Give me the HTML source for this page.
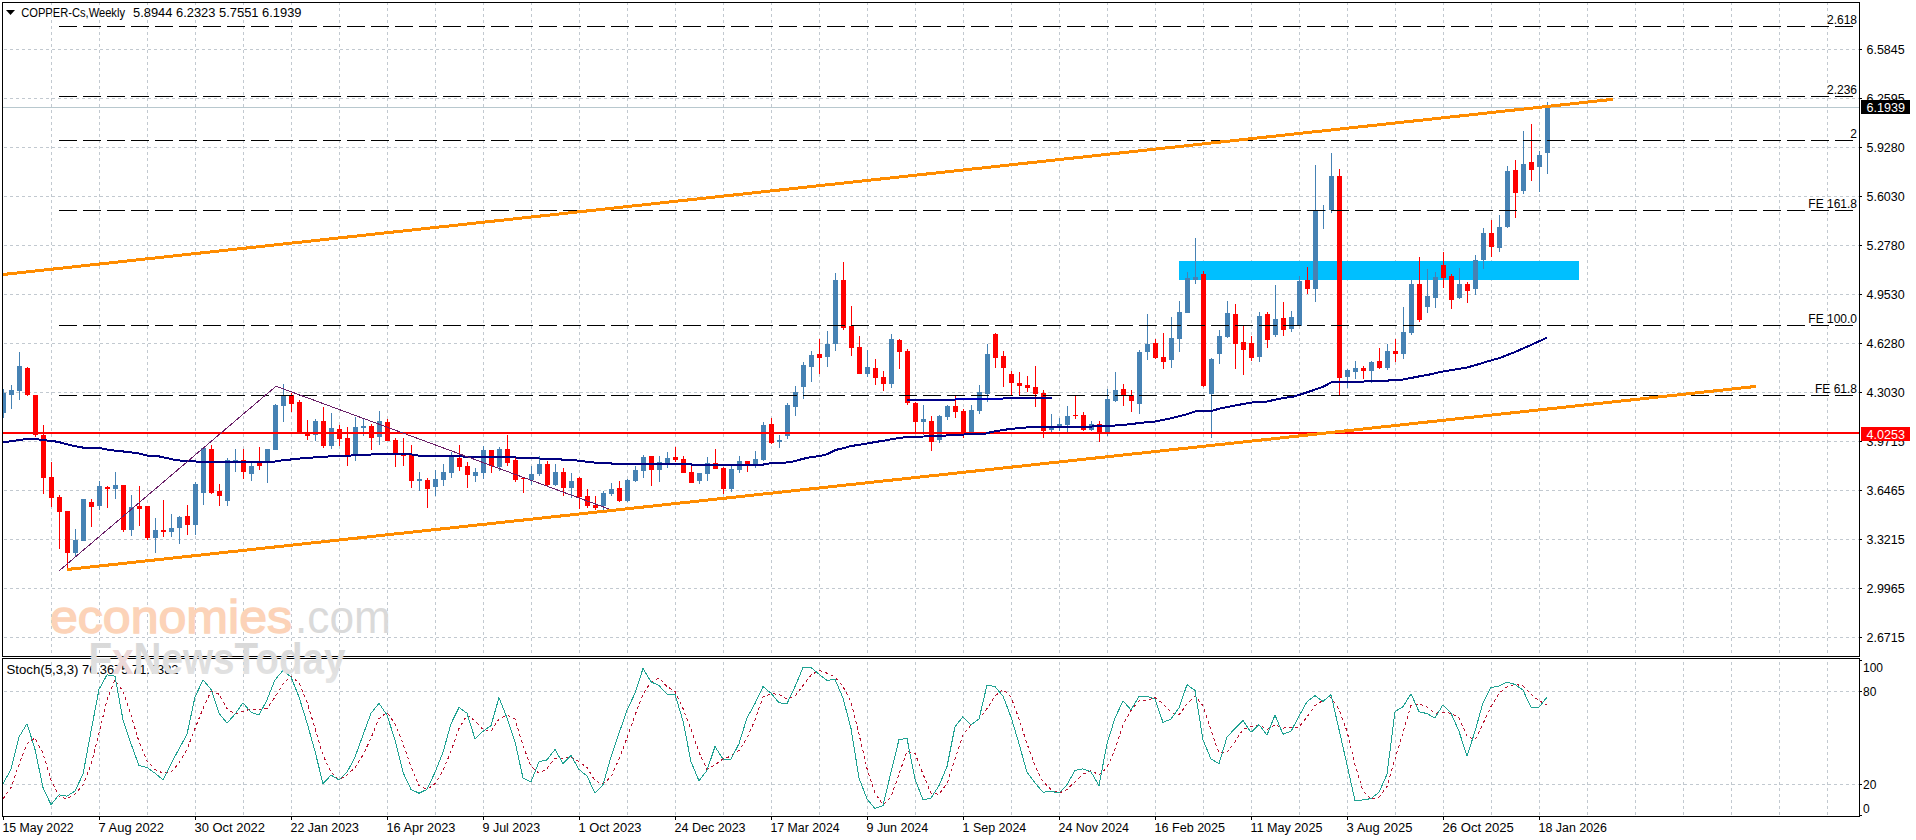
<!DOCTYPE html><html><head><meta charset="utf-8"><style>html,body{margin:0;padding:0;background:#fff;width:1916px;height:840px;overflow:hidden}svg{display:block}text{font-family:"Liberation Sans",sans-serif;font-size:12px;fill:#000;white-space:pre}</style></head><body>
<svg width="1916" height="840" viewBox="0 0 1916 840">
<rect x="0" y="0" width="1916" height="840" fill="#fff"/>
<g stroke="#c2c9d0" stroke-width="1" stroke-dasharray="3 3" shape-rendering="crispEdges" fill="none">
<line x1="51.5" y1="2" x2="51.5" y2="656"/>
<line x1="51.5" y1="662" x2="51.5" y2="816"/>
<line x1="99.5" y1="2" x2="99.5" y2="656"/>
<line x1="99.5" y1="662" x2="99.5" y2="816"/>
<line x1="147.5" y1="2" x2="147.5" y2="656"/>
<line x1="147.5" y1="662" x2="147.5" y2="816"/>
<line x1="195.5" y1="2" x2="195.5" y2="656"/>
<line x1="195.5" y1="662" x2="195.5" y2="816"/>
<line x1="243.5" y1="2" x2="243.5" y2="656"/>
<line x1="243.5" y1="662" x2="243.5" y2="816"/>
<line x1="291.5" y1="2" x2="291.5" y2="656"/>
<line x1="291.5" y1="662" x2="291.5" y2="816"/>
<line x1="339.5" y1="2" x2="339.5" y2="656"/>
<line x1="339.5" y1="662" x2="339.5" y2="816"/>
<line x1="387.5" y1="2" x2="387.5" y2="656"/>
<line x1="387.5" y1="662" x2="387.5" y2="816"/>
<line x1="435.5" y1="2" x2="435.5" y2="656"/>
<line x1="435.5" y1="662" x2="435.5" y2="816"/>
<line x1="483.5" y1="2" x2="483.5" y2="656"/>
<line x1="483.5" y1="662" x2="483.5" y2="816"/>
<line x1="531.5" y1="2" x2="531.5" y2="656"/>
<line x1="531.5" y1="662" x2="531.5" y2="816"/>
<line x1="579.5" y1="2" x2="579.5" y2="656"/>
<line x1="579.5" y1="662" x2="579.5" y2="816"/>
<line x1="627.5" y1="2" x2="627.5" y2="656"/>
<line x1="627.5" y1="662" x2="627.5" y2="816"/>
<line x1="675.5" y1="2" x2="675.5" y2="656"/>
<line x1="675.5" y1="662" x2="675.5" y2="816"/>
<line x1="723.5" y1="2" x2="723.5" y2="656"/>
<line x1="723.5" y1="662" x2="723.5" y2="816"/>
<line x1="771.5" y1="2" x2="771.5" y2="656"/>
<line x1="771.5" y1="662" x2="771.5" y2="816"/>
<line x1="819.5" y1="2" x2="819.5" y2="656"/>
<line x1="819.5" y1="662" x2="819.5" y2="816"/>
<line x1="867.5" y1="2" x2="867.5" y2="656"/>
<line x1="867.5" y1="662" x2="867.5" y2="816"/>
<line x1="915.5" y1="2" x2="915.5" y2="656"/>
<line x1="915.5" y1="662" x2="915.5" y2="816"/>
<line x1="963.5" y1="2" x2="963.5" y2="656"/>
<line x1="963.5" y1="662" x2="963.5" y2="816"/>
<line x1="1011.5" y1="2" x2="1011.5" y2="656"/>
<line x1="1011.5" y1="662" x2="1011.5" y2="816"/>
<line x1="1059.5" y1="2" x2="1059.5" y2="656"/>
<line x1="1059.5" y1="662" x2="1059.5" y2="816"/>
<line x1="1107.5" y1="2" x2="1107.5" y2="656"/>
<line x1="1107.5" y1="662" x2="1107.5" y2="816"/>
<line x1="1155.5" y1="2" x2="1155.5" y2="656"/>
<line x1="1155.5" y1="662" x2="1155.5" y2="816"/>
<line x1="1203.5" y1="2" x2="1203.5" y2="656"/>
<line x1="1203.5" y1="662" x2="1203.5" y2="816"/>
<line x1="1251.5" y1="2" x2="1251.5" y2="656"/>
<line x1="1251.5" y1="662" x2="1251.5" y2="816"/>
<line x1="1299.5" y1="2" x2="1299.5" y2="656"/>
<line x1="1299.5" y1="662" x2="1299.5" y2="816"/>
<line x1="1347.5" y1="2" x2="1347.5" y2="656"/>
<line x1="1347.5" y1="662" x2="1347.5" y2="816"/>
<line x1="1395.5" y1="2" x2="1395.5" y2="656"/>
<line x1="1395.5" y1="662" x2="1395.5" y2="816"/>
<line x1="1443.5" y1="2" x2="1443.5" y2="656"/>
<line x1="1443.5" y1="662" x2="1443.5" y2="816"/>
<line x1="1491.5" y1="2" x2="1491.5" y2="656"/>
<line x1="1491.5" y1="662" x2="1491.5" y2="816"/>
<line x1="1539.5" y1="2" x2="1539.5" y2="656"/>
<line x1="1539.5" y1="662" x2="1539.5" y2="816"/>
<line x1="1587.5" y1="2" x2="1587.5" y2="656"/>
<line x1="1587.5" y1="662" x2="1587.5" y2="816"/>
<line x1="1635.5" y1="2" x2="1635.5" y2="656"/>
<line x1="1635.5" y1="662" x2="1635.5" y2="816"/>
<line x1="1683.5" y1="2" x2="1683.5" y2="656"/>
<line x1="1683.5" y1="662" x2="1683.5" y2="816"/>
<line x1="1731.5" y1="2" x2="1731.5" y2="656"/>
<line x1="1731.5" y1="662" x2="1731.5" y2="816"/>
<line x1="1779.5" y1="2" x2="1779.5" y2="656"/>
<line x1="1779.5" y1="662" x2="1779.5" y2="816"/>
<line x1="1827.5" y1="2" x2="1827.5" y2="656"/>
<line x1="1827.5" y1="662" x2="1827.5" y2="816"/>
<line x1="4" y1="49.5" x2="1859" y2="49.5"/>
<line x1="4" y1="98.5" x2="1859" y2="98.5"/>
<line x1="4" y1="147.5" x2="1859" y2="147.5"/>
<line x1="4" y1="196.5" x2="1859" y2="196.5"/>
<line x1="4" y1="245.5" x2="1859" y2="245.5"/>
<line x1="4" y1="294.5" x2="1859" y2="294.5"/>
<line x1="4" y1="343.5" x2="1859" y2="343.5"/>
<line x1="4" y1="392.5" x2="1859" y2="392.5"/>
<line x1="4" y1="441.5" x2="1859" y2="441.5"/>
<line x1="4" y1="490.5" x2="1859" y2="490.5"/>
<line x1="4" y1="539.5" x2="1859" y2="539.5"/>
<line x1="4" y1="588.5" x2="1859" y2="588.5"/>
<line x1="4" y1="637.5" x2="1859" y2="637.5"/>
<line x1="4" y1="691.5" x2="1859" y2="691.5"/>
<line x1="4" y1="784.5" x2="1859" y2="784.5"/>
</g>
<rect x="1179" y="261" width="400" height="19" fill="#00bfff" shape-rendering="crispEdges"/>
<defs><clipPath id="mc"><rect x="3" y="3" width="1856" height="653"/></clipPath></defs>
<g shape-rendering="crispEdges" clip-path="url(#mc)">
<rect x="3" y="389" width="1" height="29" fill="#4682b4"/>
<rect x="1" y="393" width="5" height="20" fill="#4682b4"/>
<rect x="11" y="385" width="1" height="24" fill="#4682b4"/>
<rect x="9" y="390" width="5" height="5" fill="#4682b4"/>
<rect x="19" y="352" width="1" height="48" fill="#4682b4"/>
<rect x="17" y="366" width="5" height="25" fill="#4682b4"/>
<rect x="27" y="367" width="1" height="29" fill="#ff0000"/>
<rect x="25" y="368" width="5" height="27" fill="#ff0000"/>
<rect x="35" y="395" width="1" height="42" fill="#ff0000"/>
<rect x="33" y="395" width="5" height="40" fill="#ff0000"/>
<rect x="43" y="425" width="1" height="69" fill="#ff0000"/>
<rect x="41" y="435" width="5" height="43" fill="#ff0000"/>
<rect x="51" y="462" width="1" height="45" fill="#ff0000"/>
<rect x="49" y="477" width="5" height="21" fill="#ff0000"/>
<rect x="59" y="495" width="1" height="54" fill="#ff0000"/>
<rect x="57" y="497" width="5" height="15" fill="#ff0000"/>
<rect x="67" y="511" width="1" height="57" fill="#ff0000"/>
<rect x="65" y="511" width="5" height="42" fill="#ff0000"/>
<rect x="75" y="529" width="1" height="27" fill="#4682b4"/>
<rect x="73" y="540" width="5" height="13" fill="#4682b4"/>
<rect x="83" y="499" width="1" height="42" fill="#4682b4"/>
<rect x="81" y="499" width="5" height="42" fill="#4682b4"/>
<rect x="91" y="499" width="1" height="28" fill="#ff0000"/>
<rect x="89" y="502" width="5" height="5" fill="#ff0000"/>
<rect x="99" y="481" width="1" height="29" fill="#4682b4"/>
<rect x="97" y="486" width="5" height="20" fill="#4682b4"/>
<rect x="107" y="486" width="1" height="22" fill="#ff0000"/>
<rect x="105" y="487" width="5" height="2" fill="#ff0000"/>
<rect x="115" y="472" width="1" height="27" fill="#4682b4"/>
<rect x="113" y="485" width="5" height="4" fill="#4682b4"/>
<rect x="123" y="485" width="1" height="47" fill="#ff0000"/>
<rect x="121" y="485" width="5" height="45" fill="#ff0000"/>
<rect x="131" y="495" width="1" height="41" fill="#4682b4"/>
<rect x="129" y="507" width="5" height="23" fill="#4682b4"/>
<rect x="139" y="486" width="1" height="40" fill="#ff0000"/>
<rect x="137" y="506" width="5" height="3" fill="#ff0000"/>
<rect x="147" y="506" width="1" height="34" fill="#ff0000"/>
<rect x="145" y="506" width="5" height="32" fill="#ff0000"/>
<rect x="155" y="518" width="1" height="35" fill="#4682b4"/>
<rect x="153" y="530" width="5" height="8" fill="#4682b4"/>
<rect x="163" y="500" width="1" height="37" fill="#ff0000"/>
<rect x="161" y="530" width="5" height="2" fill="#ff0000"/>
<rect x="171" y="514" width="1" height="23" fill="#4682b4"/>
<rect x="169" y="528" width="5" height="4" fill="#4682b4"/>
<rect x="179" y="516" width="1" height="28" fill="#4682b4"/>
<rect x="177" y="517" width="5" height="11" fill="#4682b4"/>
<rect x="187" y="505" width="1" height="30" fill="#ff0000"/>
<rect x="185" y="516" width="5" height="9" fill="#ff0000"/>
<rect x="195" y="482" width="1" height="53" fill="#4682b4"/>
<rect x="193" y="484" width="5" height="41" fill="#4682b4"/>
<rect x="203" y="448" width="1" height="57" fill="#4682b4"/>
<rect x="201" y="448" width="5" height="45" fill="#4682b4"/>
<rect x="211" y="445" width="1" height="49" fill="#ff0000"/>
<rect x="209" y="449" width="5" height="44" fill="#ff0000"/>
<rect x="219" y="484" width="1" height="22" fill="#ff0000"/>
<rect x="217" y="491" width="5" height="5" fill="#ff0000"/>
<rect x="227" y="458" width="1" height="48" fill="#4682b4"/>
<rect x="225" y="460" width="5" height="41" fill="#4682b4"/>
<rect x="235" y="449" width="1" height="23" fill="#4682b4"/>
<rect x="233" y="460" width="5" height="2" fill="#4682b4"/>
<rect x="243" y="449" width="1" height="30" fill="#ff0000"/>
<rect x="241" y="460" width="5" height="12" fill="#ff0000"/>
<rect x="251" y="463" width="1" height="18" fill="#4682b4"/>
<rect x="249" y="466" width="5" height="8" fill="#4682b4"/>
<rect x="259" y="447" width="1" height="23" fill="#ff0000"/>
<rect x="257" y="462" width="5" height="4" fill="#ff0000"/>
<rect x="267" y="449" width="1" height="34" fill="#4682b4"/>
<rect x="265" y="449" width="5" height="14" fill="#4682b4"/>
<rect x="275" y="404" width="1" height="46" fill="#4682b4"/>
<rect x="273" y="405" width="5" height="45" fill="#4682b4"/>
<rect x="283" y="384" width="1" height="38" fill="#4682b4"/>
<rect x="281" y="395" width="5" height="11" fill="#4682b4"/>
<rect x="291" y="393" width="1" height="19" fill="#ff0000"/>
<rect x="289" y="395" width="5" height="9" fill="#ff0000"/>
<rect x="299" y="400" width="1" height="33" fill="#ff0000"/>
<rect x="297" y="402" width="5" height="31" fill="#ff0000"/>
<rect x="307" y="420" width="1" height="20" fill="#ff0000"/>
<rect x="305" y="433" width="5" height="3" fill="#ff0000"/>
<rect x="315" y="419" width="1" height="22" fill="#4682b4"/>
<rect x="313" y="421" width="5" height="14" fill="#4682b4"/>
<rect x="323" y="407" width="1" height="41" fill="#ff0000"/>
<rect x="321" y="421" width="5" height="25" fill="#ff0000"/>
<rect x="331" y="413" width="1" height="36" fill="#4682b4"/>
<rect x="329" y="428" width="5" height="18" fill="#4682b4"/>
<rect x="339" y="425" width="1" height="21" fill="#ff0000"/>
<rect x="337" y="429" width="5" height="10" fill="#ff0000"/>
<rect x="347" y="427" width="1" height="39" fill="#ff0000"/>
<rect x="345" y="438" width="5" height="17" fill="#ff0000"/>
<rect x="355" y="417" width="1" height="44" fill="#4682b4"/>
<rect x="353" y="427" width="5" height="27" fill="#4682b4"/>
<rect x="363" y="419" width="1" height="17" fill="#4682b4"/>
<rect x="361" y="426" width="5" height="2" fill="#4682b4"/>
<rect x="371" y="424" width="1" height="26" fill="#ff0000"/>
<rect x="369" y="426" width="5" height="12" fill="#ff0000"/>
<rect x="379" y="411" width="1" height="34" fill="#4682b4"/>
<rect x="377" y="421" width="5" height="16" fill="#4682b4"/>
<rect x="387" y="419" width="1" height="22" fill="#ff0000"/>
<rect x="385" y="422" width="5" height="19" fill="#ff0000"/>
<rect x="395" y="438" width="1" height="29" fill="#ff0000"/>
<rect x="393" y="440" width="5" height="13" fill="#ff0000"/>
<rect x="403" y="438" width="1" height="28" fill="#ff0000"/>
<rect x="401" y="454" width="5" height="2" fill="#ff0000"/>
<rect x="411" y="445" width="1" height="43" fill="#ff0000"/>
<rect x="409" y="455" width="5" height="26" fill="#ff0000"/>
<rect x="419" y="472" width="1" height="19" fill="#4682b4"/>
<rect x="417" y="479" width="5" height="2" fill="#4682b4"/>
<rect x="427" y="478" width="1" height="30" fill="#ff0000"/>
<rect x="425" y="480" width="5" height="9" fill="#ff0000"/>
<rect x="435" y="470" width="1" height="26" fill="#4682b4"/>
<rect x="433" y="479" width="5" height="8" fill="#4682b4"/>
<rect x="443" y="464" width="1" height="22" fill="#4682b4"/>
<rect x="441" y="472" width="5" height="8" fill="#4682b4"/>
<rect x="451" y="452" width="1" height="26" fill="#4682b4"/>
<rect x="449" y="457" width="5" height="16" fill="#4682b4"/>
<rect x="459" y="445" width="1" height="26" fill="#ff0000"/>
<rect x="457" y="458" width="5" height="9" fill="#ff0000"/>
<rect x="467" y="462" width="1" height="26" fill="#ff0000"/>
<rect x="465" y="466" width="5" height="9" fill="#ff0000"/>
<rect x="475" y="468" width="1" height="14" fill="#4682b4"/>
<rect x="473" y="472" width="5" height="4" fill="#4682b4"/>
<rect x="483" y="446" width="1" height="33" fill="#4682b4"/>
<rect x="481" y="450" width="5" height="23" fill="#4682b4"/>
<rect x="491" y="450" width="1" height="23" fill="#ff0000"/>
<rect x="489" y="450" width="5" height="16" fill="#ff0000"/>
<rect x="499" y="447" width="1" height="24" fill="#4682b4"/>
<rect x="497" y="449" width="5" height="18" fill="#4682b4"/>
<rect x="507" y="435" width="1" height="31" fill="#ff0000"/>
<rect x="505" y="449" width="5" height="14" fill="#ff0000"/>
<rect x="515" y="458" width="1" height="24" fill="#ff0000"/>
<rect x="513" y="460" width="5" height="20" fill="#ff0000"/>
<rect x="523" y="477" width="1" height="16" fill="#ff0000"/>
<rect x="521" y="478" width="5" height="1" fill="#ff0000"/>
<rect x="531" y="466" width="1" height="19" fill="#4682b4"/>
<rect x="529" y="474" width="5" height="6" fill="#4682b4"/>
<rect x="539" y="456" width="1" height="20" fill="#4682b4"/>
<rect x="537" y="464" width="5" height="10" fill="#4682b4"/>
<rect x="547" y="461" width="1" height="25" fill="#ff0000"/>
<rect x="545" y="464" width="5" height="21" fill="#ff0000"/>
<rect x="555" y="464" width="1" height="22" fill="#4682b4"/>
<rect x="553" y="472" width="5" height="13" fill="#4682b4"/>
<rect x="563" y="468" width="1" height="28" fill="#ff0000"/>
<rect x="561" y="472" width="5" height="16" fill="#ff0000"/>
<rect x="571" y="473" width="1" height="25" fill="#4682b4"/>
<rect x="569" y="481" width="5" height="7" fill="#4682b4"/>
<rect x="579" y="477" width="1" height="32" fill="#ff0000"/>
<rect x="577" y="478" width="5" height="19" fill="#ff0000"/>
<rect x="587" y="489" width="1" height="19" fill="#ff0000"/>
<rect x="585" y="496" width="5" height="10" fill="#ff0000"/>
<rect x="595" y="496" width="1" height="14" fill="#ff0000"/>
<rect x="593" y="505" width="5" height="3" fill="#ff0000"/>
<rect x="603" y="491" width="1" height="19" fill="#4682b4"/>
<rect x="601" y="493" width="5" height="13" fill="#4682b4"/>
<rect x="611" y="483" width="1" height="13" fill="#4682b4"/>
<rect x="609" y="489" width="5" height="5" fill="#4682b4"/>
<rect x="619" y="481" width="1" height="21" fill="#ff0000"/>
<rect x="617" y="488" width="5" height="13" fill="#ff0000"/>
<rect x="627" y="479" width="1" height="23" fill="#4682b4"/>
<rect x="625" y="480" width="5" height="21" fill="#4682b4"/>
<rect x="635" y="466" width="1" height="16" fill="#4682b4"/>
<rect x="633" y="470" width="5" height="11" fill="#4682b4"/>
<rect x="643" y="455" width="1" height="23" fill="#4682b4"/>
<rect x="641" y="457" width="5" height="14" fill="#4682b4"/>
<rect x="651" y="456" width="1" height="30" fill="#ff0000"/>
<rect x="649" y="456" width="5" height="14" fill="#ff0000"/>
<rect x="659" y="456" width="1" height="26" fill="#4682b4"/>
<rect x="657" y="462" width="5" height="8" fill="#4682b4"/>
<rect x="667" y="452" width="1" height="16" fill="#4682b4"/>
<rect x="665" y="458" width="5" height="5" fill="#4682b4"/>
<rect x="675" y="447" width="1" height="15" fill="#ff0000"/>
<rect x="673" y="457" width="5" height="3" fill="#ff0000"/>
<rect x="683" y="456" width="1" height="17" fill="#ff0000"/>
<rect x="681" y="459" width="5" height="14" fill="#ff0000"/>
<rect x="691" y="465" width="1" height="18" fill="#ff0000"/>
<rect x="689" y="472" width="5" height="11" fill="#ff0000"/>
<rect x="699" y="473" width="1" height="11" fill="#4682b4"/>
<rect x="697" y="473" width="5" height="8" fill="#4682b4"/>
<rect x="707" y="457" width="1" height="24" fill="#4682b4"/>
<rect x="705" y="463" width="5" height="11" fill="#4682b4"/>
<rect x="715" y="449" width="1" height="20" fill="#ff0000"/>
<rect x="713" y="463" width="5" height="6" fill="#ff0000"/>
<rect x="723" y="467" width="1" height="27" fill="#ff0000"/>
<rect x="721" y="468" width="5" height="21" fill="#ff0000"/>
<rect x="731" y="466" width="1" height="26" fill="#4682b4"/>
<rect x="729" y="469" width="5" height="20" fill="#4682b4"/>
<rect x="739" y="456" width="1" height="17" fill="#4682b4"/>
<rect x="737" y="461" width="5" height="9" fill="#4682b4"/>
<rect x="747" y="461" width="1" height="11" fill="#ff0000"/>
<rect x="745" y="461" width="5" height="3" fill="#ff0000"/>
<rect x="755" y="451" width="1" height="17" fill="#4682b4"/>
<rect x="753" y="459" width="5" height="5" fill="#4682b4"/>
<rect x="763" y="422" width="1" height="39" fill="#4682b4"/>
<rect x="761" y="425" width="5" height="35" fill="#4682b4"/>
<rect x="771" y="418" width="1" height="26" fill="#ff0000"/>
<rect x="769" y="424" width="5" height="19" fill="#ff0000"/>
<rect x="779" y="435" width="1" height="13" fill="#4682b4"/>
<rect x="777" y="440" width="5" height="2" fill="#4682b4"/>
<rect x="787" y="403" width="1" height="36" fill="#4682b4"/>
<rect x="785" y="405" width="5" height="31" fill="#4682b4"/>
<rect x="795" y="386" width="1" height="30" fill="#4682b4"/>
<rect x="793" y="392" width="5" height="15" fill="#4682b4"/>
<rect x="803" y="362" width="1" height="37" fill="#4682b4"/>
<rect x="801" y="365" width="5" height="22" fill="#4682b4"/>
<rect x="811" y="351" width="1" height="31" fill="#4682b4"/>
<rect x="809" y="355" width="5" height="12" fill="#4682b4"/>
<rect x="819" y="339" width="1" height="35" fill="#ff0000"/>
<rect x="817" y="354" width="5" height="4" fill="#ff0000"/>
<rect x="827" y="331" width="1" height="36" fill="#4682b4"/>
<rect x="825" y="344" width="5" height="13" fill="#4682b4"/>
<rect x="835" y="273" width="1" height="78" fill="#4682b4"/>
<rect x="833" y="280" width="5" height="64" fill="#4682b4"/>
<rect x="843" y="262" width="1" height="68" fill="#ff0000"/>
<rect x="841" y="280" width="5" height="48" fill="#ff0000"/>
<rect x="851" y="306" width="1" height="50" fill="#ff0000"/>
<rect x="849" y="326" width="5" height="22" fill="#ff0000"/>
<rect x="859" y="336" width="1" height="38" fill="#ff0000"/>
<rect x="857" y="347" width="5" height="27" fill="#ff0000"/>
<rect x="867" y="350" width="1" height="27" fill="#4682b4"/>
<rect x="865" y="367" width="5" height="7" fill="#4682b4"/>
<rect x="875" y="359" width="1" height="26" fill="#ff0000"/>
<rect x="873" y="368" width="5" height="10" fill="#ff0000"/>
<rect x="883" y="371" width="1" height="20" fill="#ff0000"/>
<rect x="881" y="377" width="5" height="7" fill="#ff0000"/>
<rect x="891" y="334" width="1" height="54" fill="#4682b4"/>
<rect x="889" y="339" width="5" height="45" fill="#4682b4"/>
<rect x="899" y="339" width="1" height="30" fill="#ff0000"/>
<rect x="897" y="340" width="5" height="12" fill="#ff0000"/>
<rect x="907" y="349" width="1" height="56" fill="#ff0000"/>
<rect x="905" y="351" width="5" height="52" fill="#ff0000"/>
<rect x="915" y="402" width="1" height="30" fill="#ff0000"/>
<rect x="913" y="403" width="5" height="19" fill="#ff0000"/>
<rect x="923" y="405" width="1" height="30" fill="#4682b4"/>
<rect x="921" y="419" width="5" height="3" fill="#4682b4"/>
<rect x="931" y="416" width="1" height="35" fill="#ff0000"/>
<rect x="929" y="421" width="5" height="21" fill="#ff0000"/>
<rect x="939" y="415" width="1" height="28" fill="#4682b4"/>
<rect x="937" y="416" width="5" height="24" fill="#4682b4"/>
<rect x="947" y="405" width="1" height="15" fill="#4682b4"/>
<rect x="945" y="406" width="5" height="11" fill="#4682b4"/>
<rect x="955" y="396" width="1" height="22" fill="#ff0000"/>
<rect x="953" y="406" width="5" height="6" fill="#ff0000"/>
<rect x="963" y="409" width="1" height="29" fill="#ff0000"/>
<rect x="961" y="411" width="5" height="22" fill="#ff0000"/>
<rect x="971" y="405" width="1" height="27" fill="#4682b4"/>
<rect x="969" y="410" width="5" height="22" fill="#4682b4"/>
<rect x="979" y="385" width="1" height="29" fill="#4682b4"/>
<rect x="977" y="392" width="5" height="19" fill="#4682b4"/>
<rect x="987" y="344" width="1" height="58" fill="#4682b4"/>
<rect x="985" y="354" width="5" height="40" fill="#4682b4"/>
<rect x="995" y="333" width="1" height="35" fill="#ff0000"/>
<rect x="993" y="334" width="5" height="24" fill="#ff0000"/>
<rect x="1003" y="351" width="1" height="36" fill="#ff0000"/>
<rect x="1001" y="356" width="5" height="12" fill="#ff0000"/>
<rect x="1011" y="371" width="1" height="25" fill="#ff0000"/>
<rect x="1009" y="374" width="5" height="9" fill="#ff0000"/>
<rect x="1019" y="372" width="1" height="23" fill="#ff0000"/>
<rect x="1017" y="383" width="5" height="3" fill="#ff0000"/>
<rect x="1027" y="376" width="1" height="16" fill="#ff0000"/>
<rect x="1025" y="385" width="5" height="3" fill="#ff0000"/>
<rect x="1035" y="366" width="1" height="41" fill="#ff0000"/>
<rect x="1033" y="387" width="5" height="7" fill="#ff0000"/>
<rect x="1043" y="390" width="1" height="48" fill="#ff0000"/>
<rect x="1041" y="393" width="5" height="38" fill="#ff0000"/>
<rect x="1051" y="414" width="1" height="18" fill="#4682b4"/>
<rect x="1049" y="428" width="5" height="2" fill="#4682b4"/>
<rect x="1059" y="418" width="1" height="13" fill="#4682b4"/>
<rect x="1057" y="424" width="5" height="2" fill="#4682b4"/>
<rect x="1067" y="406" width="1" height="26" fill="#4682b4"/>
<rect x="1065" y="416" width="5" height="9" fill="#4682b4"/>
<rect x="1075" y="395" width="1" height="24" fill="#ff0000"/>
<rect x="1073" y="415" width="5" height="1" fill="#ff0000"/>
<rect x="1083" y="412" width="1" height="19" fill="#ff0000"/>
<rect x="1081" y="415" width="5" height="15" fill="#ff0000"/>
<rect x="1091" y="421" width="1" height="10" fill="#4682b4"/>
<rect x="1089" y="424" width="5" height="6" fill="#4682b4"/>
<rect x="1099" y="421" width="1" height="21" fill="#ff0000"/>
<rect x="1097" y="424" width="5" height="8" fill="#ff0000"/>
<rect x="1107" y="389" width="1" height="47" fill="#4682b4"/>
<rect x="1105" y="399" width="5" height="33" fill="#4682b4"/>
<rect x="1115" y="372" width="1" height="30" fill="#4682b4"/>
<rect x="1113" y="390" width="5" height="11" fill="#4682b4"/>
<rect x="1123" y="384" width="1" height="22" fill="#ff0000"/>
<rect x="1121" y="389" width="5" height="6" fill="#ff0000"/>
<rect x="1131" y="390" width="1" height="22" fill="#ff0000"/>
<rect x="1129" y="395" width="5" height="6" fill="#ff0000"/>
<rect x="1139" y="350" width="1" height="64" fill="#4682b4"/>
<rect x="1137" y="352" width="5" height="52" fill="#4682b4"/>
<rect x="1147" y="314" width="1" height="46" fill="#4682b4"/>
<rect x="1145" y="344" width="5" height="8" fill="#4682b4"/>
<rect x="1155" y="339" width="1" height="20" fill="#ff0000"/>
<rect x="1153" y="343" width="5" height="15" fill="#ff0000"/>
<rect x="1163" y="333" width="1" height="36" fill="#ff0000"/>
<rect x="1161" y="357" width="5" height="5" fill="#ff0000"/>
<rect x="1171" y="317" width="1" height="51" fill="#4682b4"/>
<rect x="1169" y="338" width="5" height="22" fill="#4682b4"/>
<rect x="1179" y="301" width="1" height="51" fill="#4682b4"/>
<rect x="1177" y="312" width="5" height="27" fill="#4682b4"/>
<rect x="1187" y="272" width="1" height="41" fill="#4682b4"/>
<rect x="1185" y="278" width="5" height="35" fill="#4682b4"/>
<rect x="1195" y="238" width="1" height="46" fill="#4682b4"/>
<rect x="1193" y="277" width="5" height="3" fill="#4682b4"/>
<rect x="1203" y="271" width="1" height="116" fill="#ff0000"/>
<rect x="1201" y="274" width="5" height="112" fill="#ff0000"/>
<rect x="1211" y="358" width="1" height="80" fill="#4682b4"/>
<rect x="1209" y="359" width="5" height="35" fill="#4682b4"/>
<rect x="1219" y="330" width="1" height="34" fill="#4682b4"/>
<rect x="1217" y="336" width="5" height="18" fill="#4682b4"/>
<rect x="1227" y="301" width="1" height="37" fill="#4682b4"/>
<rect x="1225" y="313" width="5" height="24" fill="#4682b4"/>
<rect x="1235" y="304" width="1" height="65" fill="#ff0000"/>
<rect x="1233" y="314" width="5" height="30" fill="#ff0000"/>
<rect x="1243" y="326" width="1" height="49" fill="#ff0000"/>
<rect x="1241" y="342" width="5" height="8" fill="#ff0000"/>
<rect x="1251" y="336" width="1" height="25" fill="#ff0000"/>
<rect x="1249" y="343" width="5" height="15" fill="#ff0000"/>
<rect x="1259" y="312" width="1" height="50" fill="#4682b4"/>
<rect x="1257" y="316" width="5" height="41" fill="#4682b4"/>
<rect x="1267" y="312" width="1" height="36" fill="#ff0000"/>
<rect x="1265" y="314" width="5" height="26" fill="#ff0000"/>
<rect x="1275" y="285" width="1" height="52" fill="#4682b4"/>
<rect x="1273" y="319" width="5" height="16" fill="#4682b4"/>
<rect x="1283" y="302" width="1" height="34" fill="#ff0000"/>
<rect x="1281" y="318" width="5" height="12" fill="#ff0000"/>
<rect x="1291" y="311" width="1" height="21" fill="#4682b4"/>
<rect x="1289" y="317" width="5" height="12" fill="#4682b4"/>
<rect x="1299" y="276" width="1" height="50" fill="#4682b4"/>
<rect x="1297" y="281" width="5" height="45" fill="#4682b4"/>
<rect x="1307" y="267" width="1" height="27" fill="#ff0000"/>
<rect x="1305" y="280" width="5" height="9" fill="#ff0000"/>
<rect x="1315" y="165" width="1" height="137" fill="#4682b4"/>
<rect x="1313" y="211" width="5" height="78" fill="#4682b4"/>
<rect x="1323" y="205" width="1" height="24" fill="#4682b4"/>
<rect x="1321" y="210" width="5" height="1" fill="#4682b4"/>
<rect x="1331" y="153" width="1" height="60" fill="#4682b4"/>
<rect x="1329" y="176" width="5" height="34" fill="#4682b4"/>
<rect x="1339" y="169" width="1" height="226" fill="#ff0000"/>
<rect x="1337" y="176" width="5" height="202" fill="#ff0000"/>
<rect x="1347" y="369" width="1" height="19" fill="#4682b4"/>
<rect x="1345" y="370" width="5" height="7" fill="#4682b4"/>
<rect x="1355" y="361" width="1" height="18" fill="#4682b4"/>
<rect x="1353" y="368" width="5" height="4" fill="#4682b4"/>
<rect x="1363" y="366" width="1" height="13" fill="#ff0000"/>
<rect x="1361" y="368" width="5" height="3" fill="#ff0000"/>
<rect x="1371" y="361" width="1" height="22" fill="#4682b4"/>
<rect x="1369" y="362" width="5" height="9" fill="#4682b4"/>
<rect x="1379" y="348" width="1" height="21" fill="#ff0000"/>
<rect x="1377" y="361" width="5" height="7" fill="#ff0000"/>
<rect x="1387" y="344" width="1" height="26" fill="#4682b4"/>
<rect x="1385" y="351" width="5" height="17" fill="#4682b4"/>
<rect x="1395" y="339" width="1" height="23" fill="#ff0000"/>
<rect x="1393" y="351" width="5" height="3" fill="#ff0000"/>
<rect x="1403" y="307" width="1" height="52" fill="#4682b4"/>
<rect x="1401" y="332" width="5" height="22" fill="#4682b4"/>
<rect x="1411" y="280" width="1" height="55" fill="#4682b4"/>
<rect x="1409" y="284" width="5" height="49" fill="#4682b4"/>
<rect x="1419" y="257" width="1" height="65" fill="#ff0000"/>
<rect x="1417" y="284" width="5" height="36" fill="#ff0000"/>
<rect x="1427" y="269" width="1" height="44" fill="#4682b4"/>
<rect x="1425" y="296" width="5" height="11" fill="#4682b4"/>
<rect x="1435" y="272" width="1" height="36" fill="#4682b4"/>
<rect x="1433" y="277" width="5" height="21" fill="#4682b4"/>
<rect x="1443" y="252" width="1" height="36" fill="#ff0000"/>
<rect x="1441" y="265" width="5" height="13" fill="#ff0000"/>
<rect x="1451" y="274" width="1" height="35" fill="#ff0000"/>
<rect x="1449" y="276" width="5" height="24" fill="#ff0000"/>
<rect x="1459" y="268" width="1" height="31" fill="#4682b4"/>
<rect x="1457" y="284" width="5" height="14" fill="#4682b4"/>
<rect x="1467" y="282" width="1" height="21" fill="#ff0000"/>
<rect x="1465" y="284" width="5" height="7" fill="#ff0000"/>
<rect x="1475" y="255" width="1" height="40" fill="#4682b4"/>
<rect x="1473" y="260" width="5" height="29" fill="#4682b4"/>
<rect x="1483" y="228" width="1" height="41" fill="#4682b4"/>
<rect x="1481" y="233" width="5" height="27" fill="#4682b4"/>
<rect x="1491" y="220" width="1" height="37" fill="#ff0000"/>
<rect x="1489" y="233" width="5" height="14" fill="#ff0000"/>
<rect x="1499" y="215" width="1" height="37" fill="#4682b4"/>
<rect x="1497" y="227" width="5" height="21" fill="#4682b4"/>
<rect x="1507" y="166" width="1" height="62" fill="#4682b4"/>
<rect x="1505" y="171" width="5" height="56" fill="#4682b4"/>
<rect x="1515" y="160" width="1" height="58" fill="#ff0000"/>
<rect x="1513" y="170" width="5" height="23" fill="#ff0000"/>
<rect x="1523" y="131" width="1" height="63" fill="#4682b4"/>
<rect x="1521" y="164" width="5" height="27" fill="#4682b4"/>
<rect x="1531" y="124" width="1" height="57" fill="#ff0000"/>
<rect x="1529" y="162" width="5" height="8" fill="#ff0000"/>
<rect x="1539" y="151" width="1" height="41" fill="#4682b4"/>
<rect x="1537" y="155" width="5" height="12" fill="#4682b4"/>
<rect x="1547" y="102" width="1" height="72" fill="#4682b4"/>
<rect x="1545" y="108" width="5" height="45" fill="#4682b4"/>
</g>
<g stroke="#000" stroke-width="1" stroke-dasharray="18 6" shape-rendering="crispEdges">
<line x1="59" y1="26.5" x2="1855" y2="26.5"/>
<line x1="59" y1="96.5" x2="1855" y2="96.5"/>
<line x1="59" y1="140.5" x2="1855" y2="140.5"/>
<line x1="59" y1="210.5" x2="1855" y2="210.5"/>
<line x1="59" y1="325.5" x2="1855" y2="325.5"/>
<line x1="59" y1="395.5" x2="1855" y2="395.5"/>
</g>
<line x1="3" y1="107.5" x2="1859" y2="107.5" stroke="#b8c8ce" stroke-width="1" shape-rendering="crispEdges"/>
<line x1="3" y1="433" x2="1859" y2="433" stroke="#ff0000" stroke-width="2" shape-rendering="crispEdges"/>
<polyline points="3,442.1 11.3,441.3 20,439.9 28.8,438.8 35.9,439 43.4,440.2 50.9,440.9 58.5,441.9 65.1,443.8 73.5,445.9 83.5,447.7 99.4,448 108.6,449.9 125.3,451.7 138.6,453.4 147,455.5 158.4,456.3 166.7,458 175,459.9 183.4,461 191.8,461.3 203.4,461.9 271.1,461.9 275.3,461.5 283.6,460 292,459.4 300.3,458.5 307.5,458.4 315.9,457.1 340.1,455.9 364.3,455 380.2,453.8 410.2,454.2 419.4,455.7 450,455.9 466.7,456.7 515.1,457.1 516.8,457.7 539.4,458.5 563.6,459.6 579.4,460.7 587.8,461.9 596.1,462.7 610.9,462.9 611.5,463.8 691.3,463.8 691.8,464.8 763.7,464.8 764.2,463.8 779.6,462.9 787.3,462.4 794.6,461.3 801.9,459.1 811.4,456.9 819.4,456.2 827.5,454 835.5,450 843.5,448.1 851.6,445.9 859.6,444.8 867.7,443.4 875.7,441.9 883.7,440.8 891.8,439.1 899.8,437.9 907.9,437 939.7,436 956.5,434.6 979.4,434.3 987.3,433.4 991.3,431.9 1003.2,429.9 1020,427.9 1035.9,426.9 1107.8,426.4 1115.7,425.4 1131.6,424.1 1139.5,422.9 1155.4,421.5 1171.3,418.2 1187.1,414.2 1196.1,411 1211,411 1220.9,408.3 1238.7,404.8 1253.6,402.3 1266.9,401.5 1283.8,397.9 1292.7,396.9 1307.6,392.2 1323.5,386.6 1332.4,381.8 1363.2,381.8 1365.2,381 1388,380.8 1389,380 1402.9,379.6 1408.8,378.4 1420.7,376.1 1428.7,374.7 1440.6,371.9 1450,370.4 1467,367.5 1480,363.75 1491,360.4 1500,357.9 1515,352 1531,345 1547,337.7" fill="none" stroke="#000080" stroke-width="2" shape-rendering="crispEdges"/>
<g shape-rendering="crispEdges"><rect x="907" y="399" width="48" height="2" fill="#000088"/><rect x="955" y="398" width="48" height="2" fill="#0000b8"/><rect x="1003" y="397" width="49" height="2" fill="#000088"/></g>
<polyline points="59.3,570.6 276,386.2 610.6,509.6" fill="none" stroke="#6a2068" stroke-width="1" shape-rendering="crispEdges"/>
<line x1="3" y1="274.5" x2="1613" y2="99.3" stroke="#ff8c00" stroke-width="3" shape-rendering="crispEdges"/>
<line x1="67" y1="569.5" x2="1756" y2="386.4" stroke="#ff8c00" stroke-width="3" shape-rendering="crispEdges"/>
<text x="1857" y="24" text-anchor="end">2.618</text>
<text x="1857" y="94" text-anchor="end">2.236</text>
<text x="1857" y="138" text-anchor="end">2</text>
<text x="1857" y="208" text-anchor="end">FE 161.8</text>
<text x="1857" y="323" text-anchor="end">FE 100.0</text>
<text x="1857" y="393" text-anchor="end">FE 61.8</text>
<g fill="#000" shape-rendering="crispEdges">
<rect x="2" y="2" width="1858" height="1"/>
<rect x="2" y="656" width="1858" height="1"/>
<rect x="2" y="2" width="1" height="655"/>
<rect x="1859" y="2" width="1" height="655"/>
<rect x="2" y="658" width="1858" height="1"/>
<rect x="2" y="816" width="1858" height="1"/>
<rect x="2" y="658" width="1" height="159"/>
<rect x="1859" y="658" width="1" height="159"/>
<rect x="1860" y="49" width="2" height="1"/>
<rect x="1860" y="98" width="2" height="1"/>
<rect x="1860" y="147" width="2" height="1"/>
<rect x="1860" y="196" width="2" height="1"/>
<rect x="1860" y="245" width="2" height="1"/>
<rect x="1860" y="294" width="2" height="1"/>
<rect x="1860" y="343" width="2" height="1"/>
<rect x="1860" y="392" width="2" height="1"/>
<rect x="1860" y="441" width="2" height="1"/>
<rect x="1860" y="490" width="2" height="1"/>
<rect x="1860" y="539" width="2" height="1"/>
<rect x="1860" y="588" width="2" height="1"/>
<rect x="1860" y="637" width="2" height="1"/>
<rect x="1860" y="660" width="2" height="1"/>
<rect x="1860" y="691" width="2" height="1"/>
<rect x="1860" y="784" width="2" height="1"/>
<rect x="1860" y="815" width="2" height="1"/>
<rect x="3" y="817" width="1" height="3"/>
<rect x="99" y="817" width="1" height="3"/>
<rect x="195" y="817" width="1" height="3"/>
<rect x="291" y="817" width="1" height="3"/>
<rect x="387" y="817" width="1" height="3"/>
<rect x="483" y="817" width="1" height="3"/>
<rect x="579" y="817" width="1" height="3"/>
<rect x="675" y="817" width="1" height="3"/>
<rect x="771" y="817" width="1" height="3"/>
<rect x="867" y="817" width="1" height="3"/>
<rect x="963" y="817" width="1" height="3"/>
<rect x="1059" y="817" width="1" height="3"/>
<rect x="1155" y="817" width="1" height="3"/>
<rect x="1251" y="817" width="1" height="3"/>
<rect x="1347" y="817" width="1" height="3"/>
<rect x="1443" y="817" width="1" height="3"/>
<rect x="1539" y="817" width="1" height="3"/>
</g>
<text x="1866.5" y="53.5" textLength="38.2" lengthAdjust="spacingAndGlyphs">6.5845</text>
<text x="1866.5" y="102.5" textLength="38.2" lengthAdjust="spacingAndGlyphs">6.2595</text>
<text x="1866.5" y="151.5" textLength="38.2" lengthAdjust="spacingAndGlyphs">5.9280</text>
<text x="1866.5" y="200.5" textLength="38.2" lengthAdjust="spacingAndGlyphs">5.6030</text>
<text x="1866.5" y="249.5" textLength="38.2" lengthAdjust="spacingAndGlyphs">5.2780</text>
<text x="1866.5" y="298.5" textLength="38.2" lengthAdjust="spacingAndGlyphs">4.9530</text>
<text x="1866.5" y="347.5" textLength="38.2" lengthAdjust="spacingAndGlyphs">4.6280</text>
<text x="1866.5" y="396.5" textLength="38.2" lengthAdjust="spacingAndGlyphs">4.3030</text>
<text x="1866.5" y="445.5" textLength="38.2" lengthAdjust="spacingAndGlyphs">3.9715</text>
<text x="1866.5" y="494.5" textLength="38.2" lengthAdjust="spacingAndGlyphs">3.6465</text>
<text x="1866.5" y="543.5" textLength="38.2" lengthAdjust="spacingAndGlyphs">3.3215</text>
<text x="1866.5" y="592.5" textLength="38.2" lengthAdjust="spacingAndGlyphs">2.9965</text>
<text x="1866.5" y="641.5" textLength="38.2" lengthAdjust="spacingAndGlyphs">2.6715</text>
<text x="1863" y="672">100</text>
<text x="1863" y="696">80</text>
<text x="1863" y="789">20</text>
<text x="1863" y="813">0</text>
<rect x="1861" y="100" width="49" height="14" fill="#000" shape-rendering="crispEdges"/>
<text x="1866.5" y="111.5" style="fill:#fff" textLength="38.5" lengthAdjust="spacingAndGlyphs">6.1939</text>
<rect x="1861" y="427" width="49" height="14" fill="#ff0000" shape-rendering="crispEdges"/>
<text x="1866.5" y="438.5" style="fill:#fff" textLength="38.5" lengthAdjust="spacingAndGlyphs">4.0253</text>
<text x="2.5" y="832" textLength="71.2" lengthAdjust="spacingAndGlyphs">15 May 2022</text>
<text x="98.5" y="832" textLength="65.5" lengthAdjust="spacingAndGlyphs">7 Aug 2022</text>
<text x="194.5" y="832" textLength="70.5" lengthAdjust="spacingAndGlyphs">30 Oct 2022</text>
<text x="290.5" y="832" textLength="68.4" lengthAdjust="spacingAndGlyphs">22 Jan 2023</text>
<text x="386.5" y="832" textLength="69.0" lengthAdjust="spacingAndGlyphs">16 Apr 2023</text>
<text x="482.5" y="832" textLength="57.6" lengthAdjust="spacingAndGlyphs">9 Jul 2023</text>
<text x="578.5" y="832" textLength="63.0" lengthAdjust="spacingAndGlyphs">1 Oct 2023</text>
<text x="674.5" y="832" textLength="71.10000000000001" lengthAdjust="spacingAndGlyphs">24 Dec 2023</text>
<text x="770.5" y="832" textLength="69.10000000000001" lengthAdjust="spacingAndGlyphs">17 Mar 2024</text>
<text x="866.5" y="832" textLength="61.7" lengthAdjust="spacingAndGlyphs">9 Jun 2024</text>
<text x="962.5" y="832" textLength="63.800000000000004" lengthAdjust="spacingAndGlyphs">1 Sep 2024</text>
<text x="1058.5" y="832" textLength="70.5" lengthAdjust="spacingAndGlyphs">24 Nov 2024</text>
<text x="1154.5" y="832" textLength="70.60000000000001" lengthAdjust="spacingAndGlyphs">16 Feb 2025</text>
<text x="1250.5" y="832" textLength="71.9" lengthAdjust="spacingAndGlyphs">11 May 2025</text>
<text x="1346.5" y="832" textLength="65.9" lengthAdjust="spacingAndGlyphs">3 Aug 2025</text>
<text x="1442.5" y="832" textLength="71.4" lengthAdjust="spacingAndGlyphs">26 Oct 2025</text>
<text x="1538.5" y="832" textLength="68.4" lengthAdjust="spacingAndGlyphs">18 Jan 2026</text>
<polyline points="3,799.0 11,787.5 19,764.7 27,743.7 35,738.0 43,753.2 51,779.9 59,796.1 67,799.0 75,794.2 83,784.7 91,764.7 99,733.2 107,699.9 115,679.9 123,691.3 131,715.1 139,741.8 147,760.9 155,769.4 163,773.2 171,772.3 179,762.8 187,749.4 195,728.5 203,708.5 211,691.3 219,694.2 227,708.5 235,714.2 243,711.3 251,709.0 259,709.8 267,708.5 275,697.0 283,683.7 291,676.1 299,682.8 307,701.8 315,728.5 323,755.1 331,772.3 339,779.9 347,775.1 355,767.5 363,755.1 371,738.0 379,718.6 387,712.3 395,723.7 403,743.7 411,766.6 419,785.6 427,789.4 435,783.7 443,770.4 451,751.3 459,728.5 467,715.1 475,720.9 483,729.4 491,731.3 499,719.0 507,715.1 515,719.0 523,745.6 531,766.6 539,773.2 547,768.5 555,758.0 563,758.0 571,756.7 579,761.8 587,767.5 595,780.9 603,783.7 611,777.0 619,759.0 627,738.0 635,715.1 643,694.2 651,681.8 659,678.0 667,686.6 675,691.3 683,708.5 691,729.4 699,752.3 707,769.4 715,764.7 723,759.0 731,756.1 739,750.4 747,738.0 755,720.0 763,697.0 771,693.8 779,694.2 787,699.0 795,696.1 803,685.6 811,675.1 819,670.4 827,673.2 835,677.0 843,686.6 851,701.8 859,734.2 867,768.5 875,793.2 883,804.7 891,797.0 899,774.2 907,751.3 915,753.2 923,774.2 931,793.2 939,794.2 947,783.7 955,759.0 963,735.1 971,725.0 979,719.3 987,708.5 995,696.1 1003,689.4 1011,697.0 1019,719.0 1027,743.7 1035,765.6 1043,781.8 1051,789.4 1059,793.2 1067,789.4 1075,781.8 1083,774.2 1091,770.4 1099,775.1 1107,767.5 1115,749.4 1123,724.7 1131,710.4 1139,700.9 1147,700.3 1155,697.6 1163,703.7 1171,712.3 1179,715.1 1187,703.7 1195,696.1 1203,705.6 1211,730.4 1219,753.2 1227,752.3 1235,741.8 1243,729.4 1251,726.6 1259,725.0 1267,729.4 1275,724.7 1283,728.1 1291,727.5 1299,727.0 1307,717.0 1315,705.6 1323,700.3 1331,697.0 1339,709.4 1347,731.3 1355,764.7 1363,791.3 1371,799.0 1379,797.0 1387,786.6 1395,759.0 1403,732.3 1411,705.6 1419,703.7 1427,707.1 1435,713.2 1443,712.3 1451,713.2 1459,718.0 1467,736.1 1475,739.9 1483,723.7 1491,706.6 1499,693.2 1507,686.8 1515,684.4 1523,685.8 1531,694.1 1539,700.8 1547,704.7" fill="none" stroke="#b8102e" stroke-width="1" stroke-dasharray="3 3" shape-rendering="crispEdges"/>
<polyline points="3,783.7 11,769.4 19,737.0 27,723.7 35,749.4 43,787.5 51,804.7 59,794.8 67,796.1 75,791.0 83,774.2 91,731.3 99,689.4 107,674.8 115,676.1 123,719.9 131,743.7 139,765.6 147,767.5 155,773.2 163,779.9 171,763.7 179,749.0 187,734.2 195,697.0 203,679.9 211,689.4 219,713.2 227,723.1 235,714.2 243,702.8 251,712.3 259,715.1 267,699.9 275,679.9 283,670.4 291,677.0 299,697.0 307,722.8 315,751.3 323,783.7 331,775.1 339,779.9 347,772.3 355,757.0 363,735.1 371,713.2 379,703.3 387,715.1 395,739.9 403,772.3 411,789.4 419,793.2 427,789.4 435,772.3 443,752.3 451,723.7 459,707.5 467,713.2 475,739.0 483,731.3 491,725.6 499,697.6 507,718.0 515,741.8 523,778.0 531,781.8 539,761.8 547,759.9 555,749.4 563,763.7 571,755.5 579,769.4 587,776.1 595,793.2 603,784.7 611,757.0 619,733.2 627,710.4 635,693.2 643,668.5 651,681.8 659,685.6 667,694.2 675,694.2 683,720.9 691,761.8 699,780.9 707,770.4 715,746.6 723,759.0 731,759.0 739,743.7 747,718.0 755,703.5 763,686.6 771,693.2 779,702.8 787,703.7 795,686.6 803,667.5 811,667.5 819,674.2 827,680.5 835,679.3 843,698.0 851,728.5 859,778.0 867,799.0 875,808.5 883,805.6 891,772.3 899,739.5 907,738.4 915,779.0 923,799.9 931,798.0 939,785.6 947,766.6 955,726.6 963,716.7 971,725.0 979,719.0 987,685.0 995,686.6 1003,696.1 1011,717.0 1019,743.7 1027,772.3 1035,782.8 1043,792.3 1051,791.3 1059,792.9 1067,784.7 1075,770.4 1083,768.9 1091,771.9 1099,785.6 1107,743.7 1115,718.0 1123,700.9 1131,709.8 1139,696.5 1147,696.5 1155,699.0 1163,722.4 1171,719.0 1179,707.9 1187,684.7 1195,690.4 1203,739.9 1211,759.0 1219,763.7 1227,737.0 1235,728.5 1243,720.5 1251,732.3 1259,724.7 1267,735.1 1275,715.1 1283,734.2 1291,731.3 1299,716.1 1307,701.8 1315,695.7 1323,701.4 1331,694.6 1339,729.4 1347,764.7 1355,800.9 1363,799.9 1371,798.6 1379,792.3 1387,774.2 1395,711.7 1403,706.6 1411,693.8 1419,711.7 1427,713.6 1435,718.0 1443,704.7 1451,713.2 1459,731.3 1467,756.1 1475,731.3 1483,702.8 1491,687.5 1499,686.2 1507,682.2 1515,684.4 1523,690.2 1531,707.3 1539,707.3 1547,697.1" fill="none" stroke="#1fa292" stroke-width="1" shape-rendering="crispEdges"/>
<path d="M6,10 L15,10 L10.5,15 Z" fill="#000"/>
<text x="21.2" y="17" textLength="103.8" lengthAdjust="spacingAndGlyphs">COPPER-Cs,Weekly</text>
<text x="133" y="17" textLength="168.5" lengthAdjust="spacingAndGlyphs">5.8944 6.2323 5.7551 6.1939</text>
<text x="6.5" y="674" textLength="72" lengthAdjust="spacingAndGlyphs">Stoch(5,3,3)</text>
<text x="82" y="674" textLength="96.5" lengthAdjust="spacingAndGlyphs">76.3675 71.7382</text>
<text x="50" y="633" style="font-size:46px;fill:#fcd3b8;stroke:#fcd3b8;stroke-width:1.4" textLength="242" lengthAdjust="spacingAndGlyphs">economies</text>
<text x="295" y="633" style="font-size:46px;fill:#dadada" textLength="96" lengthAdjust="spacingAndGlyphs">.com</text>
<defs><linearGradient id="wg" x1="0" y1="0" x2="0" y2="1"><stop offset="0" stop-color="#d6d6d6"/><stop offset="1" stop-color="#e4e4e4"/></linearGradient></defs>
<text x="88.5" y="674" style="font-size:44px;font-weight:bold;fill:url(#wg)" textLength="257" lengthAdjust="spacingAndGlyphs">F<tspan style="fill:#ecd8d8">x</tspan>NewsToday</text>
</svg></body></html>
